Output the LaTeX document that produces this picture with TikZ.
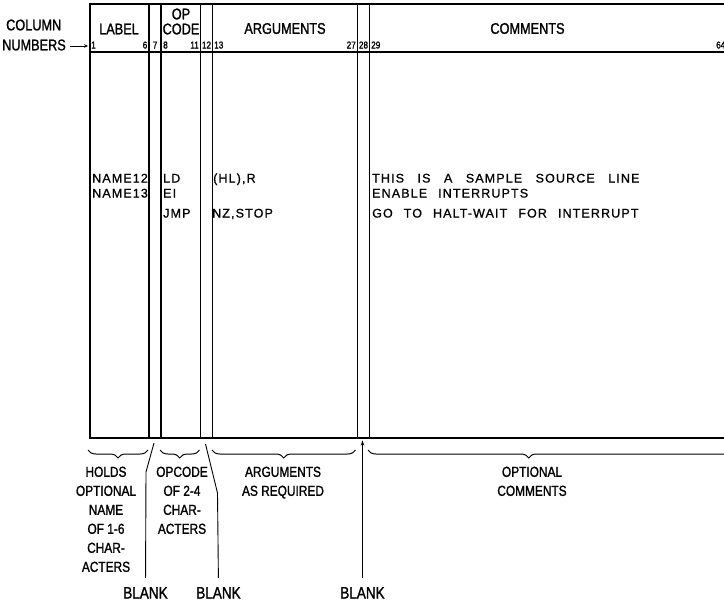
\documentclass[tikz,border=0pt]{standalone}
\usepackage{fontspec}
\setmainfont{Liberation Sans}
\newfontfamily\condfont{Liberation Sans}[FakeStretch=0.82,FakeBold=1.3]
\newfontfamily\bodyfont{Liberation Sans}[LetterSpace=9,FakeBold=1]
\newcommand\wgap{\hspace{11pt}}
\newcommand\wwgap{\hspace{13.5pt}}
\usetikzlibrary{decorations.pathreplacing,arrows.meta}
\begin{document}
\begin{tikzpicture}[x=1pt,y=-1pt,
  hdr/.style={font=\condfont\fontsize{15.5}{15.5}\selectfont, inner sep=0pt},
  num/.style={font=\condfont\fontsize{10}{10}\selectfont, inner sep=0pt},
  code/.style={font=\bodyfont\fontsize{12.5}{12.5}\selectfont, inner sep=0pt, anchor=base west},
  lbl/.style={font=\condfont\fontsize{14.5}{19}\selectfont, inner sep=0pt, align=center, anchor=north},
  blank/.style={font=\condfont\fontsize{16.5}{16.5}\selectfont, inner sep=0pt, anchor=base},
  rule/.style={line width=1.1pt},
  heavyrule/.style={line width=2pt},
  leader/.style={line width=0.9pt},
  curly/.style={decorate, decoration={brace, mirror, amplitude=8pt}, line width=1pt}
]
\useasboundingbox (0,0) rectangle (724,603);

% frame
\draw[heavyrule] (88.5,3.5) -- (724,3.5);
\draw[heavyrule] (89.5,2.5) -- (89.5,438.5);
\draw[rule] (89.5,52) -- (724,52);
\draw[rule] (89.5,438) -- (724,438);
\foreach \x in {149,161,200.5,212.5,357.5,369.5}
  \draw[rule] (\x,3.5) -- (\x,438);

% headings
\node[hdr] (hlabel) at (119,29) {LABEL};
\node[hdr] (hop) at (181,14) {OP};
\node[hdr] (hcode) at (181,29) {CODE};
\node[hdr] (hargs) at (285,28.5) {ARGUMENTS};
\node[hdr] (hcomm) at (527.5,28.5) {COMMENTS};
\node[hdr, anchor=west] (column) at (6,25) {COLUMN};
\node[hdr, anchor=west] (numbers) at (2,45) {NUMBERS};
\coordinate (boxleft) at (88,46);
\draw[line width=0.9pt, -{Stealth[length=4pt,width=3.5pt]}] (numbers.east |- boxleft) ++(4,0) coordinate (arrstart) -- (boxleft);

% column numbers
\node[num, anchor=base west] (n1) at (91,48.5) {1};
\node[num, anchor=base east] (n6) at (147.5,48.5) {6};
\node[num, anchor=base] (n7) at (155,48.5) {7};
\node[num, anchor=base west] (n8) at (163,48.5) {8};
\node[num, anchor=base east] (n11) at (199,48.5) {11};
\node[num, anchor=base] (n12) at (206.5,48.5) {12};
\node[num, anchor=base west] (n13) at (214,48.5) {13};
\node[num, anchor=base east] (n27) at (356,48.5) {27};
\node[num, anchor=base] (n28) at (363.5,48.5) {28};
\node[num, anchor=base west] (n29) at (371,48.5) {29};
\node[num, anchor=base west] (n64) at (716,48.5) {64};

% source lines
\node[code] (l1) at (92,182.5) {NAME12};
\node[code] (l2) at (92,197.5) {NAME13};
\node[code] (o1) at (163,182.5) {LD};
\node[code] (o2) at (163,197.5) {EI};
\node[code] (o3) at (163,217.5) {JMP};
\node[code] (a1) at (213,182.5) {(HL),R};
\node[code] (a3) at (212,217.5) {NZ,STOP};
\node[code] (c1) at (372,182.5) {THIS\wwgap IS\wwgap A\wwgap SAMPLE\wwgap SOURCE\wwgap LINE};
\node[code] (c2) at (372,197.5) {ENABLE\wgap INTERRUPTS};
\node[code] (c3) at (372,217.5) {GO\wgap TO\wgap HALT-WAIT\wgap FOR\wgap INTERRUPT};

% braces
\draw[curly] (88,450) -- (148,450);
\draw[curly] (160,450) -- (199.5,450);
\draw[curly] (212,450) -- (355.5,450);
\draw[curly, decoration={aspect=0.438}] (368,450) -- (735,450);

% explanations
\node[lbl] (holds) at (106,466.5) {HOLDS\\OPTIONAL\\NAME\\OF 1-6\\CHAR-\\ACTERS};
\node[lbl] (opcode) at (182,466.5) {OPCODE\\OF 2-4\\CHAR-\\ACTERS};
\node[lbl] (argreq) at (283,466.5) {ARGUMENTS\\AS REQUIRED};
\node[lbl] (optcom) at (532,466.5) {OPTIONAL\\COMMENTS};

% blanks
\node[blank] (blank1) at (145.5,598.5) {BLANK};
\node[blank] (blank2) at (218.5,598.5) {BLANK};
\node[blank] (blank3) at (362.5,598.5) {BLANK};
\coordinate (t1) at (154,443);
\coordinate (t2) at (205.5,444);
\coordinate (t3) at (362.5,440.5);
\draw[leader, shorten >=9pt] (t1) -- (146,472) -- (blank1.north);
\draw[leader, shorten >=9pt] (t2) -- (217.5,493) -- (blank2.north);
\draw[leader, shorten <=9pt, -{Stealth[length=5pt,width=3.5pt]}] (blank3.north) -- (t3);
\end{tikzpicture}
\end{document}
